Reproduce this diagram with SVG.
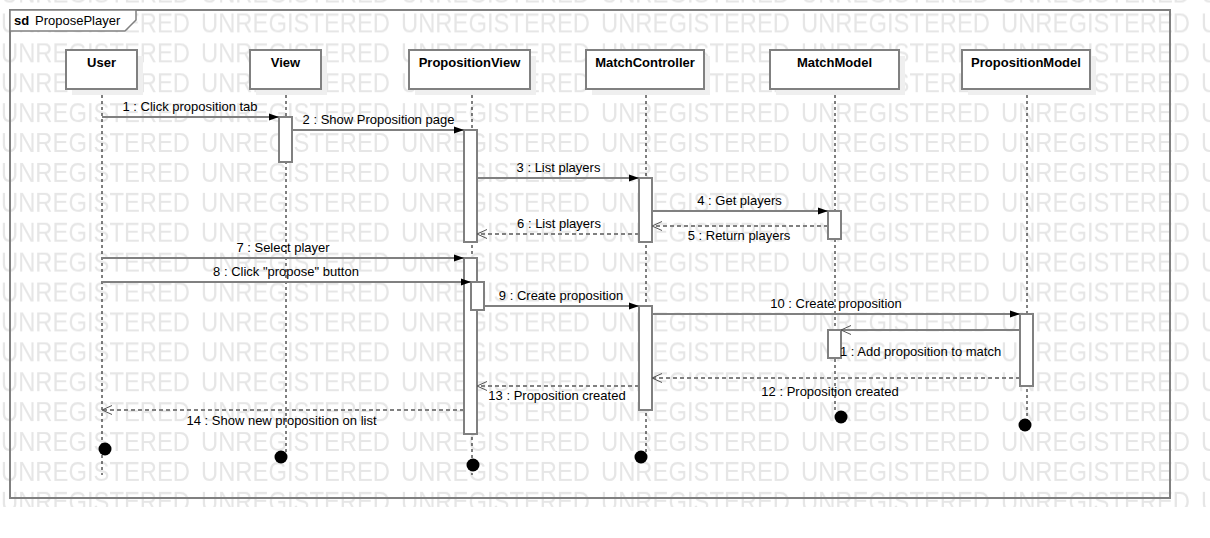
<svg xmlns="http://www.w3.org/2000/svg" width="1210" height="538" viewBox="0 0 1210 538">
<style>
text{font-family:"Liberation Sans",Arial,sans-serif;font-size:13px;fill:#000}
.wm{font-size:27px;fill:#e6e6e6}
.box{fill:#fff;stroke:#808080;stroke-width:2}
.shadow{fill:#efefef}
.bname{font-weight:bold;text-anchor:middle}
.life{stroke:#000;stroke-width:1;stroke-dasharray:3,3;fill:none}
.bar{fill:#fff;stroke:#808080;stroke-width:2}
.msg{stroke:#808080;stroke-width:2;fill:none}
.call{marker-end:url(#filled)}
.ret{stroke-dasharray:4,3;marker-end:url(#open)}
.async{marker-end:url(#open)}
.lbl{text-anchor:middle}
.dot{fill:#000}
</style>
<defs>
<marker id="filled" markerUnits="userSpaceOnUse" markerWidth="12" markerHeight="9" refX="10" refY="3.5" orient="auto" overflow="visible">
<path d="M0,0 L10,3.5 L0,7 z" fill="#000"/>
</marker>
<marker id="open" markerUnits="userSpaceOnUse" markerWidth="12" markerHeight="10" refX="10" refY="4.5" orient="auto" overflow="visible">
<path d="M0,0 L10,4.5 L0,9" fill="none" stroke="#555" stroke-width="1"/>
</marker>
<pattern id="wmp" patternUnits="userSpaceOnUse" x="1" y="3.5" width="200" height="29.9">
<text class="wm" x="0" y="29" textLength="189" lengthAdjust="spacingAndGlyphs">UNREGISTERED</text>
</pattern>
</defs>
<rect x="0" y="0" width="1210" height="538" fill="#fff"/>
<g id="watermark">
<rect x="0" y="0" width="1210" height="507" fill="url(#wmp)"/>
</g>
<g id="frame">
<rect x="10" y="10" width="1160" height="488" fill="none" stroke="#808080" stroke-width="2"/>
<path d="M10,10 L136,10 L136,20 L125,31 L10,31 z" fill="#fff" stroke="#808080" stroke-width="1.5"/>
<text x="14" y="25" font-weight="bold">sd</text>
<text x="35" y="25">ProposePlayer</text>
</g>
<g id="lifelines">
<line class="life" x1="102" y1="89" x2="102" y2="475"/>
<line class="life" x1="286" y1="89" x2="286" y2="452"/>
<line class="life" x1="472" y1="89" x2="472" y2="475"/>
<line class="life" x1="646" y1="89" x2="646" y2="452"/>
<line class="life" x1="835" y1="89" x2="835" y2="412"/>
<line class="life" x1="1027" y1="89" x2="1027" y2="420"/>
</g>
<g id="User">
<rect class="shadow" x="72" y="56" width="71" height="39"/>
<rect class="box" x="66" y="50" width="71" height="39"/>
<text class="bname" x="101.5" y="67">User</text>
<circle class="dot" cx="105" cy="449" r="6.5"/>
</g>
<g id="View">
<rect class="shadow" x="256" y="56" width="71" height="39"/>
<rect class="box" x="250" y="50" width="71" height="39"/>
<text class="bname" x="285.5" y="67">View</text>
<rect class="bar" x="279" y="117" width="13" height="45"/>
<circle class="dot" cx="281" cy="457" r="6.5"/>
</g>
<g id="PropositionView">
<rect class="shadow" x="415" y="56" width="121" height="39"/>
<rect class="box" x="409" y="50" width="121" height="39"/>
<text class="bname" x="469.5" y="67">PropositionView</text>
<rect class="bar" x="464" y="130" width="13" height="112"/>
<rect class="bar" x="464" y="258" width="13" height="176"/>
<rect class="bar" x="471" y="282" width="13" height="28"/>
<circle class="dot" cx="473" cy="465" r="6.5"/>
</g>
<g id="MatchController">
<rect class="shadow" x="592" y="56" width="118" height="39"/>
<rect class="box" x="586" y="50" width="118" height="39"/>
<text class="bname" x="645" y="67">MatchController</text>
<rect class="bar" x="639" y="178" width="13" height="64"/>
<rect class="bar" x="639" y="306" width="13" height="104"/>
<circle class="dot" cx="641" cy="457" r="6.5"/>
</g>
<g id="MatchModel">
<rect class="shadow" x="776" y="56" width="129" height="39"/>
<rect class="box" x="770" y="50" width="129" height="39"/>
<text class="bname" x="834.5" y="67">MatchModel</text>
<rect class="bar" x="828" y="211" width="13" height="28"/>
<rect class="bar" x="828" y="330" width="13" height="28"/>
<circle class="dot" cx="841" cy="417" r="6.5"/>
</g>
<g id="PropositionModel">
<rect class="shadow" x="968" y="56" width="128" height="39"/>
<rect class="box" x="962" y="50" width="128" height="39"/>
<text class="bname" x="1026" y="67">PropositionModel</text>
<rect class="bar" x="1020" y="314" width="13" height="72"/>
<circle class="dot" cx="1025" cy="425" r="6.5"/>
</g>
<g id="connectors">
<line class="msg call" x1="102" y1="117" x2="279" y2="117"/>
<text class="lbl" x="190" y="111">1 : Click proposition tab</text>
<line class="msg call" x1="292" y1="130" x2="464" y2="130"/>
<text class="lbl" x="378.5" y="124">2 : Show Proposition page</text>
<line class="msg call" x1="477" y1="178" x2="639" y2="178"/>
<text class="lbl" x="558.5" y="172">3 : List players</text>
<line class="msg call" x1="652" y1="211" x2="828" y2="211"/>
<text class="lbl" x="739.5" y="205">4 : Get players</text>
<line class="msg ret" x1="828" y1="226" x2="652" y2="226"/>
<text class="lbl" x="739" y="240">5 : Return players</text>
<line class="msg ret" x1="639" y1="234" x2="477" y2="234"/>
<text class="lbl" x="559" y="228">6 : List players</text>
<line class="msg call" x1="102" y1="258" x2="464" y2="258"/>
<text class="lbl" x="283" y="252">7 : Select player</text>
<line class="msg call" x1="102" y1="282" x2="471" y2="282"/>
<text class="lbl" x="286" y="276">8 : Click "propose" button</text>
<line class="msg call" x1="484" y1="306" x2="639" y2="306"/>
<text class="lbl" x="561" y="300">9 : Create proposition</text>
<line class="msg call" x1="652" y1="314" x2="1020" y2="314"/>
<text class="lbl" x="836" y="308">10 : Create proposition</text>
<line class="msg async" x1="1020" y1="330" x2="841" y2="330"/>
<text x="840" y="356">1 : Add proposition to match</text>
<line class="msg ret" x1="1020" y1="378" x2="652" y2="378"/>
<text class="lbl" x="830" y="396">12 : Proposition created</text>
<line class="msg ret" x1="639" y1="386" x2="477" y2="386"/>
<text class="lbl" x="557" y="400">13 : Proposition created</text>
<line class="msg ret" x1="464" y1="410" x2="102" y2="410"/>
<text class="lbl" x="281.5" y="424.5">14 : Show new proposition on list</text>
</g>
</svg>
